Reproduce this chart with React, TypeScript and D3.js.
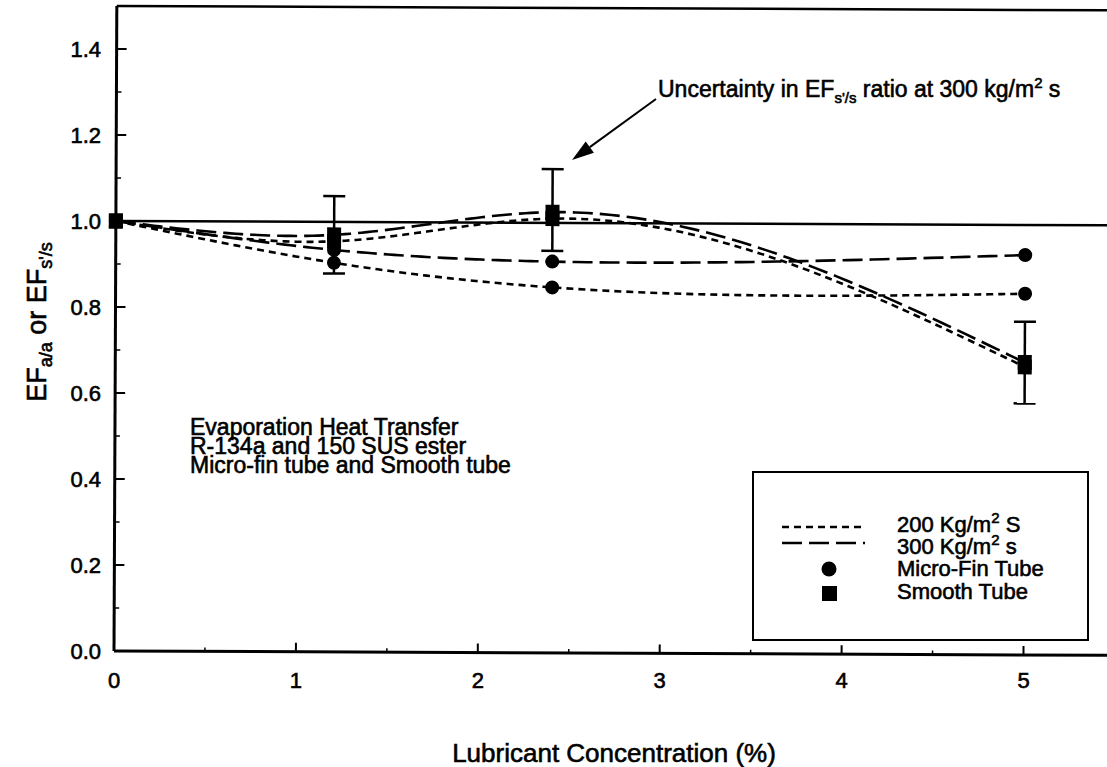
import React from 'react';
import * as d3 from 'd3';

// values
const concentration = [0, 1.2, 2.4, 5];
const microFin200 = [1.0, 0.905, 0.85, 0.84];
const microFin300 = [1.0, 0.935, 0.91, 0.93];
const smooth200 = [1.0, 0.955, 1.01, 0.67];
const smooth300 = [1.0, 0.97, 1.025, 0.68];

const errConc = [1.2, 2.4, 5];
const errLow = [0.88, 0.935, 0.585];
const errHigh = [1.06, 1.125, 0.775];

const refLevel = 1.0;
const yTicks = [0, 0.2, 0.4, 0.6, 0.8, 1.0, 1.2, 1.4];
const xTicks = [0, 1, 2, 3, 4, 5];
const noteLines = ['Evaporation Heat Transfer', 'R-134a and 150 SUS ester', 'Micro-fin tube and Smooth tube'];

const W = 1107;
const H = 767;
const FONT = '"Liberation Sans", Arial, Helvetica, sans-serif';
const DASH200 = '7,5';
const DASH300 = '20,7';

const x = d3.scaleLinear().domain([0, 5.5]).range([114, 114 + 5.5 * 181.9]);
const y = d3.scaleLinear().domain([0, 1.5]).range([651, 651 - 1.5 * 430]);

// natural cubic spline with y as a function of x (d3.curveNatural is parametric,
// which bulges with uneven x spacing)
function curveNaturalX(context: any) {
    let xs: number[] = [];
    let ys: number[] = [];
    return {
        areaStart() {},
        areaEnd() {},
        lineStart() { xs = []; ys = []; },
        point(px: number, py: number) { xs.push(+px); ys.push(+py); },
        lineEnd() {
            const n = xs.length;
            if (!n) return;
            context.moveTo(xs[0], ys[0]);
            if (n < 3) { for (let i = 1; i < n; i++) context.lineTo(xs[i], ys[i]); return; }
            const h = d3.range(n - 1).map(i => xs[i + 1] - xs[i]);
            const M = new Array(n).fill(0);
            // tridiagonal system for interior second derivatives
            const a: number[] = [], b: number[] = [], c: number[] = [], d: number[] = [];
            for (let i = 1; i < n - 1; i++) {
                a.push(h[i - 1]);
                b.push(2 * (h[i - 1] + h[i]));
                c.push(h[i]);
                d.push(6 * ((ys[i + 1] - ys[i]) / h[i] - (ys[i] - ys[i - 1]) / h[i - 1]));
            }
            const m = b.length;
            for (let i = 1; i < m; i++) {
                const w = a[i] / b[i - 1];
                b[i] -= w * c[i - 1];
                d[i] -= w * d[i - 1];
            }
            const sol = new Array(m).fill(0);
            sol[m - 1] = d[m - 1] / b[m - 1];
            for (let i = m - 2; i >= 0; i--) sol[i] = (d[i] - c[i] * sol[i + 1]) / b[i];
            for (let i = 0; i < m; i++) M[i + 1] = sol[i];
            for (let i = 0; i < n - 1; i++) {
                const steps = 40;
                for (let s = 1; s <= steps; s++) {
                    const t = xs[i] + (h[i] * s) / steps;
                    const A = xs[i + 1] - t, B = t - xs[i];
                    const v = (M[i] * A * A * A + M[i + 1] * B * B * B) / (6 * h[i])
                        + (ys[i] / h[i] - (M[i] * h[i]) / 6) * A
                        + (ys[i + 1] / h[i] - (M[i + 1] * h[i]) / 6) * B;
                    context.lineTo(t, v);
                }
            }
        },
    };
}

const line = d3.line<[number, number]>()
    .x(d => x(d[0]))
    .y(d => y(d[1]))
    .curve(curveNaturalX as any);

const pts = (vals: number[]) => concentration.map((c, i) => [c, vals[i]] as [number, number]);

const txt = { fontFamily: FONT, fill: '#000', stroke: '#000', strokeWidth: 0.6 };

export default function App() {
    const minorY = d3.range(0.1, 1.5, 0.2);
    const minorX = d3.range(0.5, 5.5, 1);

    // annotation arrow
    const a0 = [656, 99], tip = [572, 160];
    const dx = tip[0] - a0[0], dy = tip[1] - a0[1];
    const len = Math.hypot(dx, dy);
    const ux = dx / len, uy = dy / len;
    const bx = tip[0] - 22 * ux, by = tip[1] - 22 * uy;
    const head = `${tip[0]},${tip[1]} ${bx - 7 * uy},${by + 7 * ux} ${bx + 7 * uy},${by - 7 * ux}`;

    return (
        <svg width={W} height={H} style={{ position: 'absolute', left: 0, top: 0, background: '#fff' }}>
            <rect width={W} height={H} fill="#fff" />

            {/* plot area, slightly rotated like the scan */}
            <g transform={`rotate(0.25, ${x(0)}, ${y(0)})`}>
                {/* frame */}
                <line x1={x(0)} x2={x(5.5)} y1={y(1.5)} y2={y(1.5)} stroke="#000" strokeWidth={2.5} />
                <line x1={x(0)} x2={x(0)} y1={y(1.5)} y2={y(0)} stroke="#000" strokeWidth={3} />
                <line x1={x(0)} x2={x(5.5)} y1={y(0)} y2={y(0)} stroke="#000" strokeWidth={3} />

                {yTicks.map(t => (
                    <line key={'yt' + t} x1={x(0)} x2={x(0) + 10} y1={y(t)} y2={y(t)} stroke="#000" strokeWidth={2} />
                ))}
                {minorY.map(t => (
                    <line key={'ym' + t} x1={x(0)} x2={x(0) + 5} y1={y(t)} y2={y(t)} stroke="#000" strokeWidth={1.5} />
                ))}
                {xTicks.map(t => (
                    <line key={'xt' + t} x1={x(t)} x2={x(t)} y1={y(0)} y2={y(0) - 9} stroke="#000" strokeWidth={2} />
                ))}
                {minorX.map(t => (
                    <line key={'xm' + t} x1={x(t)} x2={x(t)} y1={y(0)} y2={y(0) - 4} stroke="#000" strokeWidth={1.5} />
                ))}

                {/* reference line at 1.0 */}
                <line x1={x(0)} x2={x(5.5)} y1={y(refLevel)} y2={y(refLevel)} stroke="#000" strokeWidth={2.5} />

                {/* curves */}
                <path d={line(pts(microFin200)) || ''} fill="none" stroke="#000" strokeWidth={2.6} strokeDasharray={DASH200} />
                <path d={line(pts(smooth200)) || ''} fill="none" stroke="#000" strokeWidth={2.6} strokeDasharray={DASH200} />
                <path d={line(pts(microFin300)) || ''} fill="none" stroke="#000" strokeWidth={2.6} strokeDasharray={DASH300} />
                <path d={line(pts(smooth300)) || ''} fill="none" stroke="#000" strokeWidth={2.6} strokeDasharray={DASH300} />

                {/* error bars */}
                {errConc.map((c, i) => (
                    <g key={'eb' + c} stroke="#000" strokeWidth={2.5}>
                        <line x1={x(c)} x2={x(c)} y1={y(errLow[i])} y2={y(errHigh[i])} />
                        <line x1={x(c) - 11} x2={x(c) + 11} y1={y(errLow[i])} y2={y(errLow[i])} />
                        <line x1={x(c) - 11} x2={x(c) + 11} y1={y(errHigh[i])} y2={y(errHigh[i])} />
                    </g>
                ))}

                {/* markers */}
                {[microFin200, microFin300].map((s, k) => s.map((v, i) => (
                    <circle key={`c${k}-${i}`} cx={x(concentration[i])} cy={y(v)} r={7} fill="#000" />
                )))}
                {[smooth200, smooth300].map((s, k) => s.map((v, i) => (
                    <rect key={`s${k}-${i}`} x={x(concentration[i]) - 7} y={y(v) - 7.5} width={14} height={15} fill="#000" />
                )))}
            </g>

            {/* tick labels */}
            {yTicks.map(t => (
                <text key={'yl' + t} x={101} y={y(t)} dy="0.36em" textAnchor="end" fontSize={22} style={txt}>
                    {t.toFixed(1)}
                </text>
            ))}
            {xTicks.map(t => (
                <text key={'xl' + t} x={x(t)} y={688} textAnchor="middle" fontSize={22} style={txt}>
                    {t}
                </text>
            ))}

            {/* axis titles */}
            <text x={614} y={762} textAnchor="middle" fontSize={26} style={txt}>Lubricant Concentration (%)</text>
            <text transform="translate(46, 322) rotate(-90)" textAnchor="middle" fontSize={27} style={txt}>
                EF<tspan fontSize={18} dy={6}>a/a</tspan>
                <tspan dy={-6}> or EF</tspan>
                <tspan fontSize={18} dy={6}>s'/s</tspan>
            </text>

            {/* note */}
            {noteLines.map((s, i) => (
                <text key={'n' + i} x={190} y={435 + i * 19} fontSize={23} style={txt}>{s}</text>
            ))}

            {/* annotation */}
            <text x={658} y={97} fontSize={23} style={txt}>
                Uncertainty in EF<tspan fontSize={15} dy={6}>s'/s</tspan>
                <tspan dy={-6}> ratio at 300 kg/m</tspan>
                <tspan fontSize={15} dy={-9}>2</tspan>
                <tspan dy={9}> s</tspan>
            </text>
            <line x1={a0[0]} y1={a0[1]} x2={bx} y2={by} stroke="#000" strokeWidth={2} />
            <polygon points={head} fill="#000" />

            {/* legend */}
            <rect x={753} y={472} width={335} height={168} fill="#fff" stroke="#000" strokeWidth={2} />
            <line x1={782} x2={865} y1={527} y2={527} stroke="#000" strokeWidth={2.6} strokeDasharray={DASH200} />
            <line x1={782} x2={865} y1={543} y2={543} stroke="#000" strokeWidth={2.6} strokeDasharray={DASH300} />
            <circle cx={829} cy={569} r={7.5} fill="#000" />
            <rect x={822} y={586} width={15} height={15} fill="#000" />
            <text x={897} y={532} fontSize={22} style={txt}>
                200 Kg/m<tspan fontSize={15} dy={-9}>2</tspan><tspan dy={9}> S</tspan>
            </text>
            <text x={897} y={554} fontSize={22} style={txt}>
                300 Kg/m<tspan fontSize={15} dy={-9}>2</tspan><tspan dy={9}> s</tspan>
            </text>
            <text x={897} y={576} fontSize={22} style={txt}>Micro-Fin Tube</text>
            <text x={897} y={599} fontSize={22} style={txt}>Smooth Tube</text>
        </svg>
    );
}
